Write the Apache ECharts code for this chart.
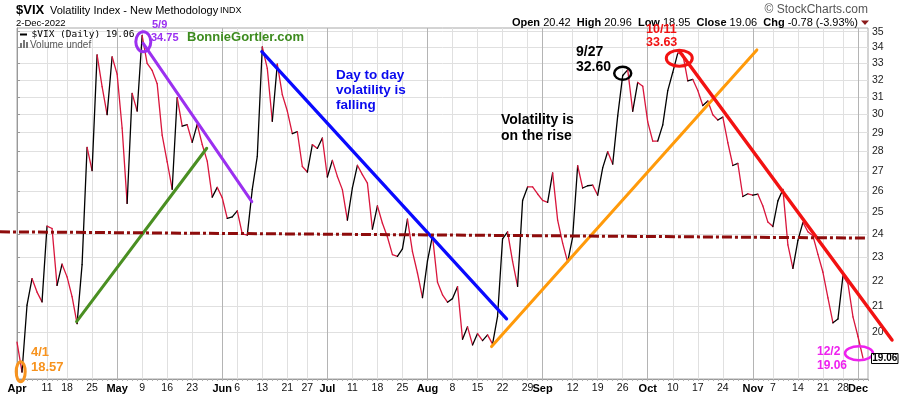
<!DOCTYPE html>
<html><head><meta charset="utf-8">
<script src="https://cdn.jsdelivr.net/npm/echarts@6/dist/echarts.min.js"></script>
<style>html,body{margin:0;padding:0;background:#fff}#c{width:900px;height:396px}</style>
</head><body><div id="c"></div>
<script>
// ---------- data ----------
const dates = [
 '4/1','4/4','4/5','4/6','4/7','4/8','4/11','4/12','4/13','4/14','4/18','4/19','4/20','4/21','4/22','4/25','4/26','4/27','4/28','4/29',
 '5/2','5/3','5/4','5/5','5/6','5/9','5/10','5/11','5/12','5/13','5/16','5/17','5/18','5/19','5/20','5/23','5/24','5/25','5/26','5/27','5/31',
 '6/1','6/2','6/3','6/6','6/7','6/8','6/9','6/10','6/13','6/14','6/15','6/16','6/17','6/21','6/22','6/23','6/24','6/27','6/28','6/29','6/30',
 '7/1','7/5','7/6','7/7','7/8','7/11','7/12','7/13','7/14','7/15','7/18','7/19','7/20','7/21','7/22','7/25','7/26','7/27','7/28','7/29',
 '8/1','8/2','8/3','8/4','8/5','8/8','8/9','8/10','8/11','8/12','8/15','8/16','8/17','8/18','8/19','8/22','8/23','8/24','8/25','8/26','8/29','8/30','8/31',
 '9/1','9/2','9/6','9/7','9/8','9/9','9/12','9/13','9/14','9/15','9/16','9/19','9/20','9/21','9/22','9/23','9/26','9/27','9/28','9/29','9/30',
 '10/3','10/4','10/5','10/6','10/7','10/10','10/11','10/12','10/13','10/14','10/17','10/18','10/19','10/20','10/21','10/24','10/25','10/26','10/27','10/28','10/31',
 '11/1','11/2','11/3','11/4','11/7','11/8','11/9','11/10','11/11','11/14','11/15','11/16','11/17','11/18','11/21','11/22','11/23','11/25','11/28','11/29','11/30',
 '12/1','12/2'
];
const vixClose = [
 19.63,18.57,21.03,22.10,21.55,21.16,24.37,24.26,21.82,22.70,22.17,21.37,20.32,22.68,28.21,27.02,33.52,31.60,29.99,33.40,
 32.34,29.25,25.42,31.20,30.19,34.75,32.99,32.56,31.77,28.87,27.47,26.10,30.96,29.35,29.43,28.48,29.45,28.37,27.50,25.72,26.19,
 25.69,24.72,24.79,25.07,24.02,23.96,26.09,27.75,34.02,32.69,29.62,32.95,31.13,30.19,28.95,29.05,27.23,26.95,28.36,28.16,28.71,
 26.70,27.54,26.73,26.08,24.64,26.17,27.29,26.82,26.40,24.23,25.30,24.50,23.88,23.11,23.03,23.36,24.69,23.24,22.33,21.33,
 22.84,23.93,21.95,21.44,21.15,21.29,21.77,19.74,20.20,19.53,19.95,19.69,19.90,19.56,20.60,23.80,24.11,22.82,21.78,25.56,26.21,26.21,25.87,
 25.56,25.47,26.91,24.64,23.61,22.79,23.87,27.27,26.16,26.27,26.30,25.81,27.16,27.99,27.35,29.92,32.26,32.60,30.18,31.84,31.62,
 29.59,28.55,28.55,29.42,31.36,32.45,33.63,33.57,31.94,32.02,31.37,30.50,30.76,29.98,29.69,29.85,28.46,27.28,27.39,25.75,25.88,
 25.81,25.86,25.30,24.55,24.35,25.54,26.09,23.53,22.52,23.73,24.54,24.11,23.93,23.12,22.36,21.32,20.35,20.50,22.21,21.89,20.58,
 19.84,19.06
];
const weekTickDates = ['4/1','4/11','4/18','4/25','5/2','5/9','5/16','5/23','6/1','6/6','6/13','6/21','6/27',
 '7/1','7/11','7/18','7/25','8/1','8/8','8/15','8/22','8/29','9/1','9/12','9/19','9/26',
 '10/3','10/10','10/17','10/24','11/1','11/7','11/14','11/21','11/28','12/1'];
const monthTickDates = ['4/1','5/2','6/1','7/1','8/1','9/1','10/3','11/1','12/1'];
const monthNames = ['Apr','May','Jun','Jul','Aug','Sep','Oct','Nov','Dec'];
const yTickValues = [20,21,22,23,24,25,26,27,28,29,30,31,32,33,34,35];

// annotation trend lines in data space: [fromIndex, fromValue, toIndex, toValue]
const trendPurple = [25.2, 34.25, 46.9, 25.5];
const trendGreen  = [11.9, 20.4, 37.9, 28.17];
const trendBlue   = [48.9, 33.72, 97.8, 20.50];
const trendOrange = [94.8, 19.47, 147.8, 33.83];
const trendRed    = [132.4, 33.72, 174.8, 19.71];
const supportLine = [-3.4, 24.11, 170, 23.83];
// circled points: [index, value]
const circle59   = [25.23, 34.35];
const circle41   = [0.74, 18.58];
const circle927  = [121.0, 32.39];
const circle1011 = [132.3, 33.31];
const circle122  = [168.2, 19.23];

// ---------- build ----------
const FONT = '"Liberation Sans", Arial, sans-serif';
const categories = dates.concat(['']);
const weekSet = new Set(weekTickDates);
const monthSet = new Set(monthTickDates);
const monthOf = {};
monthTickDates.forEach((d, i) => monthOf[d] = monthNames[i]);

const segData = [];
for (let i = 1; i < vixClose.length; i++) segData.push([i - 1, vixClose[i - 1], i, vixClose[i]]);

const lineDefs = [
  {d: trendGreen,  color: '#4a8f22', w: 3},
  {d: trendPurple, color: '#9b30f0', w: 3},
  {d: trendBlue,   color: '#0a0aff', w: 3.2},
  {d: trendOrange, color: '#ff9a0a', w: 3},
  {d: trendRed,    color: '#f21212', w: 3.4},
  {d: supportLine, color: '#8e0c0c', w: 3, dash: [10, 3, 3, 3]}
];
const ellDefs = [
  {c: circle59,   rx: 7.5, ry: 10, color: '#9b30f0', w: 3},
  {c: circle41,   rx: 4.5, ry: 10, color: '#f7931e', w: 3},
  {c: circle927,  rx: 8.5, ry: 6.5, color: '#000', w: 2.5},
  {c: circle1011, rx: 13, ry: 8, color: '#f21212', w: 3},
  {c: circle122,  rx: 14, ry: 7, color: '#ee22ee', w: 2.5}
];

function txt(text, x, y, font, fill, extra) {
  return Object.assign({type: 'text', z: 100, style: Object.assign({text, x, y, font, fill, verticalAlign: 'middle', align: 'left'}, extra || {})});
}

const graphics = [
  txt('$VIX', 16, 10, 'bold 13px ' + FONT, '#000'),
  txt('Volatility Index - New Methodology', 50, 10.5, '11px ' + FONT, '#000'),
  txt('INDX', 220, 10.5, '9px ' + FONT, '#000'),
  txt('2-Dec-2022', 16, 23, '9.5px ' + FONT, '#000'),
  txt('\u00A9 StockCharts.com', 868, 10, '12px ' + FONT, '#555', {align: 'right'}),
  {type: 'text', z: 100, style: {text: '{b|Open} 20.42  {b|High} 20.96  {b|Low} 18.95  {b|Close} 19.06  {b|Chg} -0.78 (-3.93%)',
    x: 858, y: 22.5, align: 'right', verticalAlign: 'middle', fontSize: 11, fontFamily: FONT, fill: '#000',
    rich: {b: {fontWeight: 'bold', fontSize: 11, fontFamily: FONT}}}},
  {type: 'polygon', z: 100, shape: {points: [[861, 20.5], [869, 20.5], [865, 25]]}, style: {fill: '#8b1a1a'}},
  {type: 'line', z: 100, shape: {x1: 20, y1: 34.5, x2: 27, y2: 34.5}, style: {stroke: '#000', lineWidth: 2}},
  txt('$VIX (Daily) 19.06', 31.5, 35, '9.5px "DejaVu Sans Mono", monospace', '#000'),
  {type: 'rect', z: 100, shape: {x: 20, y: 43, width: 2, height: 5}, style: {fill: '#777'}},
  {type: 'rect', z: 100, shape: {x: 23, y: 40, width: 2, height: 8}, style: {fill: '#777'}},
  {type: 'rect', z: 100, shape: {x: 26, y: 42, width: 2, height: 6}, style: {fill: '#777'}},
  txt('Volume undef', 30, 45, '10px ' + FONT, '#555'),
  txt('5/9', 152, 25, 'bold 11px ' + FONT, '#9b30f0'),
  txt('34.75', 151, 38, 'bold 11px ' + FONT, '#9b30f0'),
  txt('BonnieGortler.com', 187, 37, 'bold 13px ' + FONT, '#3d8b1e'),
  txt('Day to day\nvolatility is\nfalling', 336, 90, 'bold 13.5px ' + FONT, '#0a0aee', {lineHeight: 15}),
  txt('Volatility is\non the rise', 501, 128, 'bold 14px ' + FONT, '#000', {lineHeight: 16}),
  txt('9/27\n32.60', 576, 59.5, 'bold 14px ' + FONT, '#000', {lineHeight: 15}),
  txt('10/11\n33.63', 646, 36.5, 'bold 12.5px ' + FONT, '#f21212', {lineHeight: 13}),
  txt('4/1\n18.57', 31, 359.5, 'bold 13px ' + FONT, '#f7931e', {lineHeight: 15}),
  txt('12/2\n19.06', 817, 358.5, 'bold 12px ' + FONT, '#ee22ee', {lineHeight: 13.5})
];

const option = {
  animation: false,
  backgroundColor: '#fff',
  grid: {left: 17, right: 32, top: 28, bottom: 17, show: true, borderColor: '#a8a8a8', borderWidth: 1},
  xAxis: [
    {type: 'category', data: categories, boundaryGap: false,
     axisLine: {show: true, lineStyle: {color: '#999'}},
     axisTick: {show: true, interval: 0, length: 2, lineStyle: {color: '#b0b0b0'}},
     axisLabel: {interval: 0, margin: 4, fontSize: 10.5, color: '#111', fontFamily: FONT, hideOverlap: false,
       formatter: v => !weekSet.has(v) ? '' : (monthSet.has(v) ? '{b|' + monthOf[v] + '}' : v.split('/')[1]),
       rich: {b: {fontWeight: 'bold', fontSize: 11, fontFamily: FONT, color: '#000'}}},
     splitLine: {show: true, interval: (i, v) => weekSet.has(v) && !monthSet.has(v), lineStyle: {color: '#e0e0e0', width: 1}}},
    {type: 'category', data: categories, boundaryGap: false,
     axisLine: {show: false}, axisTick: {show: false}, axisLabel: {show: false},
     splitLine: {show: true, interval: (i, v) => monthSet.has(v), lineStyle: {color: '#b4b4b4', width: 1}}},
    {type: 'value', min: 0, max: categories.length - 1, show: false}
  ],
  yAxis: [{
    type: 'log', position: 'right', min: 18.33, max: 35.24,
    axisLine: {show: true, lineStyle: {color: '#999'}},
    axisTick: {show: true, customValues: yTickValues, length: 3, lineStyle: {color: '#999'}},
    axisLabel: {customValues: yTickValues, margin: 4, fontSize: 10.5, color: '#222', fontFamily: FONT,
      formatter: v => String(Math.round(v))},
    splitLine: {show: true, lineStyle: {color: '#e0e0e0', width: 1}}
  }],
  graphic: graphics,
  series: [
    {type: 'custom', name: 'VIX', xAxisIndex: 0, yAxisIndex: 0, z: 3, clip: false,
     encode: {x: [0, 2], y: [1, 3]}, data: segData,
     renderItem(params, api) {
       const a = api.coord([api.value(0), api.value(1)]);
       const b = api.coord([api.value(2), api.value(3)]);
       return {type: 'line', shape: {x1: a[0], y1: a[1], x2: b[0], y2: b[1]},
         style: {stroke: api.value(3) > api.value(1) ? '#000' : '#d9163c', lineWidth: 1.3, lineCap: 'round'}};
     }},
    {type: 'custom', name: 'trend', xAxisIndex: 2, yAxisIndex: 0, z: 5, clip: false,
     encode: {x: [0, 2], y: [1, 3]}, data: lineDefs.map(l => l.d),
     renderItem(params, api) {
       const def = lineDefs[params.dataIndex];
       const a = api.coord([api.value(0), api.value(1)]);
       const b = api.coord([api.value(2), api.value(3)]);
       return {type: 'line', shape: {x1: a[0], y1: a[1], x2: b[0], y2: b[1]},
         style: {stroke: def.color, lineWidth: def.w, lineDash: def.dash || null, lineCap: def.dash ? 'butt' : 'round'}};
     }},
    {type: 'custom', name: 'circles', xAxisIndex: 2, yAxisIndex: 0, z: 6, clip: false,
     encode: {x: 0, y: 1}, data: ellDefs.map(e => e.c),
     renderItem(params, api) {
       const def = ellDefs[params.dataIndex];
       const c = api.coord([api.value(0), api.value(1)]);
       return {type: 'ellipse', shape: {cx: c[0], cy: c[1], rx: def.rx, ry: def.ry},
         style: {stroke: def.color, lineWidth: def.w, fill: 'none'}};
     }}
  ]
};

const chart = echarts.init(document.getElementById('c'));
chart.setOption(option);
const lastVal = vixClose[vixClose.length - 1];
const yLast = chart.convertToPixel({yAxisIndex: 0}, lastVal);
chart.setOption({graphic: graphics.concat([
  {type: 'rect', z: 110, shape: {x: 871.5, y: yLast - 4.5, width: 26.5, height: 10}, style: {fill: '#fff', stroke: '#000', lineWidth: 1}},
  {type: 'text', z: 111, style: {text: lastVal.toFixed(2), x: 884.8, y: yLast + 0.5, align: 'center', verticalAlign: 'middle',
    font: 'bold 10px ' + FONT, fill: '#000'}}
])});
</script>
</body></html>
